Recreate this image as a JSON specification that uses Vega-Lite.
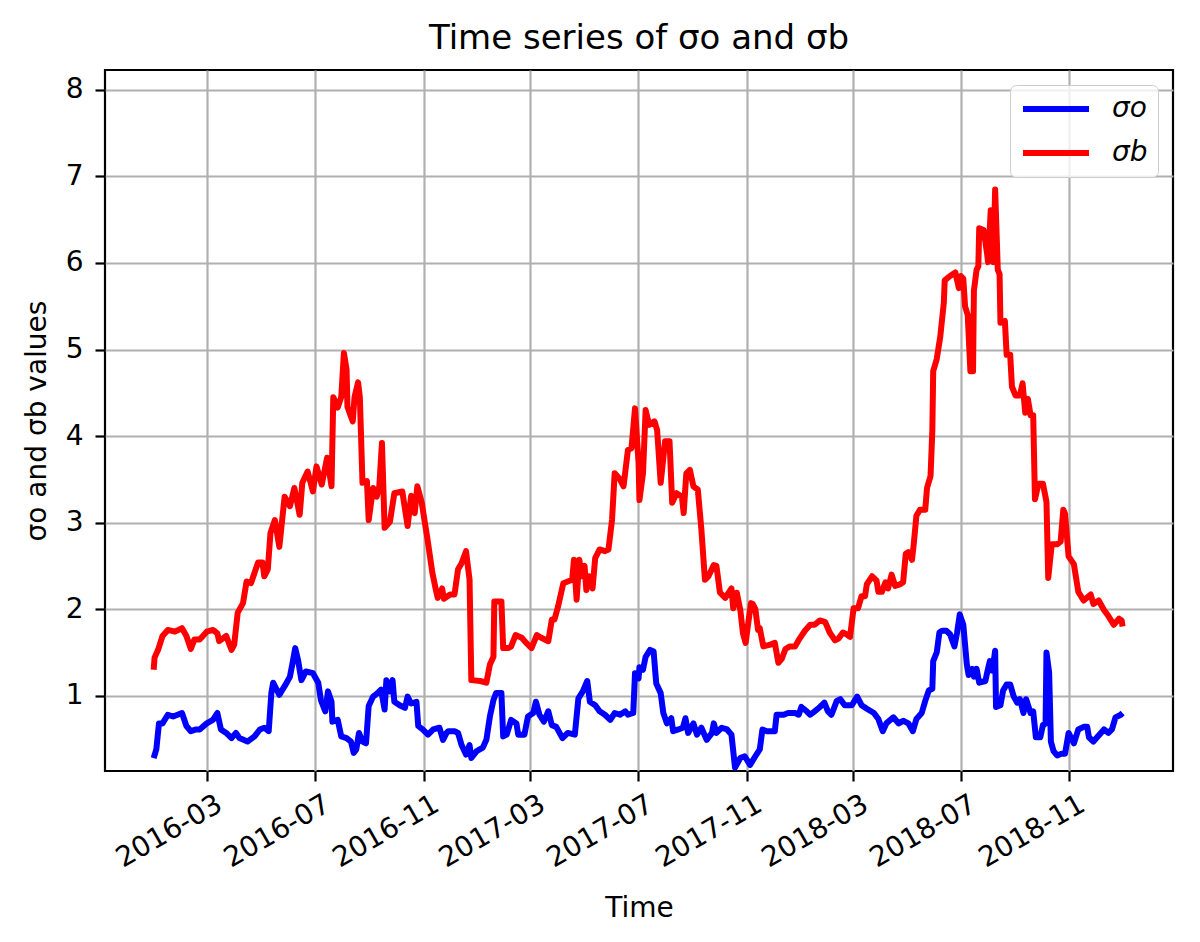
{
  "$schema": "https://vega.github.io/schema/vega-lite/v6.json",
  "width": 1068,
  "height": 701,
  "autosize": {"type": "none"},
  "padding": {"left": 105, "top": 70, "right": 27, "bottom": 171},
  "background": "white",
  "title": {
    "text": "Time series of σo and σb",
    "font": "DejaVu Sans",
    "fontSize": 34,
    "fontWeight": "normal",
    "color": "black",
    "anchor": "middle",
    "offset": 14
  },
  "config": {
    "font": "DejaVu Sans",
    "view": {"stroke": "black", "strokeWidth": 2.2},
    "axis": {
      "grid": true,
      "gridColor": "#b0b0b0",
      "gridWidth": 2.2,
      "domain": false,
      "ticks": true,
      "tickColor": "black",
      "tickWidth": 2.2,
      "tickSize": 10,
      "labelFont": "DejaVu Sans",
      "labelFontSize": 28,
      "labelColor": "black",
      "titleFont": "DejaVu Sans",
      "titleFontSize": 28,
      "titleFontWeight": "normal",
      "titleColor": "black"
    }
  },
  "data": {
    "values": [
      {"date": "2016-01-01", "series": "σo", "value": 0.28},
      {"date": "2016-01-04", "series": "σo", "value": 0.38},
      {"date": "2016-01-07", "series": "σo", "value": 0.68},
      {"date": "2016-01-11", "series": "σo", "value": 0.68},
      {"date": "2016-01-17", "series": "σo", "value": 0.78},
      {"date": "2016-01-23", "series": "σo", "value": 0.76},
      {"date": "2016-01-28", "series": "σo", "value": 0.78},
      {"date": "2016-02-02", "series": "σo", "value": 0.80},
      {"date": "2016-02-07", "series": "σo", "value": 0.65},
      {"date": "2016-02-12", "series": "σo", "value": 0.59},
      {"date": "2016-02-18", "series": "σo", "value": 0.61},
      {"date": "2016-02-22", "series": "σo", "value": 0.61},
      {"date": "2016-03-01", "series": "σo", "value": 0.68},
      {"date": "2016-03-08", "series": "σo", "value": 0.72},
      {"date": "2016-03-13", "series": "σo", "value": 0.80},
      {"date": "2016-03-17", "series": "σo", "value": 0.61},
      {"date": "2016-03-23", "series": "σo", "value": 0.57},
      {"date": "2016-03-29", "series": "σo", "value": 0.51},
      {"date": "2016-04-03", "series": "σo", "value": 0.57},
      {"date": "2016-04-07", "series": "σo", "value": 0.51},
      {"date": "2016-04-16", "series": "σo", "value": 0.47},
      {"date": "2016-04-24", "series": "σo", "value": 0.53},
      {"date": "2016-04-30", "series": "σo", "value": 0.61},
      {"date": "2016-05-05", "series": "σo", "value": 0.63},
      {"date": "2016-05-10", "series": "σo", "value": 0.59},
      {"date": "2016-05-13", "series": "σo", "value": 1.03},
      {"date": "2016-05-15", "series": "σo", "value": 1.15},
      {"date": "2016-05-22", "series": "σo", "value": 1.01},
      {"date": "2016-05-28", "series": "σo", "value": 1.11},
      {"date": "2016-06-03", "series": "σo", "value": 1.22},
      {"date": "2016-06-06", "series": "σo", "value": 1.38},
      {"date": "2016-06-09", "series": "σo", "value": 1.55},
      {"date": "2016-06-12", "series": "σo", "value": 1.42},
      {"date": "2016-06-16", "series": "σo", "value": 1.18},
      {"date": "2016-06-21", "series": "σo", "value": 1.28},
      {"date": "2016-06-29", "series": "σo", "value": 1.26},
      {"date": "2016-07-05", "series": "σo", "value": 1.15},
      {"date": "2016-07-08", "series": "σo", "value": 0.95},
      {"date": "2016-07-13", "series": "σo", "value": 0.82},
      {"date": "2016-07-16", "series": "σo", "value": 1.05},
      {"date": "2016-07-20", "series": "σo", "value": 0.93},
      {"date": "2016-07-21", "series": "σo", "value": 0.70},
      {"date": "2016-07-27", "series": "σo", "value": 0.72},
      {"date": "2016-07-31", "series": "σo", "value": 0.53},
      {"date": "2016-08-06", "series": "σo", "value": 0.51},
      {"date": "2016-08-11", "series": "σo", "value": 0.47},
      {"date": "2016-08-14", "series": "σo", "value": 0.34},
      {"date": "2016-08-17", "series": "σo", "value": 0.38},
      {"date": "2016-08-20", "series": "σo", "value": 0.57},
      {"date": "2016-08-24", "series": "σo", "value": 0.47},
      {"date": "2016-08-28", "series": "σo", "value": 0.45},
      {"date": "2016-08-31", "series": "σo", "value": 0.88},
      {"date": "2016-09-05", "series": "σo", "value": 0.99},
      {"date": "2016-09-10", "series": "σo", "value": 1.03},
      {"date": "2016-09-14", "series": "σo", "value": 1.07},
      {"date": "2016-09-18", "series": "σo", "value": 0.84},
      {"date": "2016-09-20", "series": "σo", "value": 1.18},
      {"date": "2016-09-24", "series": "σo", "value": 1.05},
      {"date": "2016-09-27", "series": "σo", "value": 1.18},
      {"date": "2016-09-29", "series": "σo", "value": 0.93},
      {"date": "2016-10-05", "series": "σo", "value": 0.89},
      {"date": "2016-10-11", "series": "σo", "value": 0.86},
      {"date": "2016-10-14", "series": "σo", "value": 0.99},
      {"date": "2016-10-18", "series": "σo", "value": 0.91},
      {"date": "2016-10-24", "series": "σo", "value": 0.93},
      {"date": "2016-10-26", "series": "σo", "value": 0.65},
      {"date": "2016-10-31", "series": "σo", "value": 0.61},
      {"date": "2016-11-06", "series": "σo", "value": 0.55},
      {"date": "2016-11-12", "series": "σo", "value": 0.61},
      {"date": "2016-11-19", "series": "σo", "value": 0.63},
      {"date": "2016-11-23", "series": "σo", "value": 0.49},
      {"date": "2016-11-27", "series": "σo", "value": 0.57},
      {"date": "2016-11-29", "series": "σo", "value": 0.59},
      {"date": "2016-12-06", "series": "σo", "value": 0.59},
      {"date": "2016-12-10", "series": "σo", "value": 0.57},
      {"date": "2016-12-14", "series": "σo", "value": 0.43},
      {"date": "2016-12-19", "series": "σo", "value": 0.32},
      {"date": "2016-12-23", "series": "σo", "value": 0.43},
      {"date": "2016-12-25", "series": "σo", "value": 0.28},
      {"date": "2016-12-31", "series": "σo", "value": 0.36},
      {"date": "2017-01-07", "series": "σo", "value": 0.40},
      {"date": "2017-01-11", "series": "σo", "value": 0.49},
      {"date": "2017-01-15", "series": "σo", "value": 0.76},
      {"date": "2017-01-19", "series": "σo", "value": 0.95},
      {"date": "2017-01-22", "series": "σo", "value": 1.03},
      {"date": "2017-01-28", "series": "σo", "value": 1.03},
      {"date": "2017-01-30", "series": "σo", "value": 0.53},
      {"date": "2017-02-03", "series": "σo", "value": 0.55},
      {"date": "2017-02-08", "series": "σo", "value": 0.72},
      {"date": "2017-02-14", "series": "σo", "value": 0.68},
      {"date": "2017-02-16", "series": "σo", "value": 0.55},
      {"date": "2017-02-23", "series": "σo", "value": 0.55},
      {"date": "2017-02-27", "series": "σo", "value": 0.76},
      {"date": "2017-03-05", "series": "σo", "value": 0.80},
      {"date": "2017-03-08", "series": "σo", "value": 0.93},
      {"date": "2017-03-12", "series": "σo", "value": 0.78},
      {"date": "2017-03-17", "series": "σo", "value": 0.70},
      {"date": "2017-03-22", "series": "σo", "value": 0.82},
      {"date": "2017-03-26", "series": "σo", "value": 0.66},
      {"date": "2017-03-31", "series": "σo", "value": 0.64},
      {"date": "2017-04-07", "series": "σo", "value": 0.51},
      {"date": "2017-04-13", "series": "σo", "value": 0.57},
      {"date": "2017-04-21", "series": "σo", "value": 0.55},
      {"date": "2017-04-25", "series": "σo", "value": 0.97},
      {"date": "2017-04-30", "series": "σo", "value": 1.05},
      {"date": "2017-05-05", "series": "σo", "value": 1.17},
      {"date": "2017-05-08", "series": "σo", "value": 0.93},
      {"date": "2017-05-14", "series": "σo", "value": 0.89},
      {"date": "2017-05-19", "series": "σo", "value": 0.82},
      {"date": "2017-05-25", "series": "σo", "value": 0.78},
      {"date": "2017-05-31", "series": "σo", "value": 0.72},
      {"date": "2017-06-05", "series": "σo", "value": 0.80},
      {"date": "2017-06-11", "series": "σo", "value": 0.78},
      {"date": "2017-06-17", "series": "σo", "value": 0.82},
      {"date": "2017-06-20", "series": "σo", "value": 0.78},
      {"date": "2017-06-26", "series": "σo", "value": 0.80},
      {"date": "2017-06-28", "series": "σo", "value": 1.26},
      {"date": "2017-07-02", "series": "σo", "value": 1.20},
      {"date": "2017-07-03", "series": "σo", "value": 1.33},
      {"date": "2017-07-07", "series": "σo", "value": 1.30},
      {"date": "2017-07-10", "series": "σo", "value": 1.45},
      {"date": "2017-07-15", "series": "σo", "value": 1.53},
      {"date": "2017-07-19", "series": "σo", "value": 1.51},
      {"date": "2017-07-22", "series": "σo", "value": 1.14},
      {"date": "2017-07-27", "series": "σo", "value": 1.03},
      {"date": "2017-07-30", "series": "σo", "value": 0.80},
      {"date": "2017-08-03", "series": "σo", "value": 0.68},
      {"date": "2017-08-08", "series": "σo", "value": 0.74},
      {"date": "2017-08-10", "series": "σo", "value": 0.59},
      {"date": "2017-08-16", "series": "σo", "value": 0.61},
      {"date": "2017-08-21", "series": "σo", "value": 0.63},
      {"date": "2017-08-24", "series": "σo", "value": 0.74},
      {"date": "2017-08-27", "series": "σo", "value": 0.57},
      {"date": "2017-09-02", "series": "σo", "value": 0.68},
      {"date": "2017-09-06", "series": "σo", "value": 0.55},
      {"date": "2017-09-11", "series": "σo", "value": 0.63},
      {"date": "2017-09-17", "series": "σo", "value": 0.49},
      {"date": "2017-09-23", "series": "σo", "value": 0.57},
      {"date": "2017-09-25", "series": "σo", "value": 0.68},
      {"date": "2017-09-28", "series": "σo", "value": 0.57},
      {"date": "2017-10-04", "series": "σo", "value": 0.63},
      {"date": "2017-10-10", "series": "σo", "value": 0.61},
      {"date": "2017-10-15", "series": "σo", "value": 0.55},
      {"date": "2017-10-19", "series": "σo", "value": 0.17},
      {"date": "2017-10-25", "series": "σo", "value": 0.28},
      {"date": "2017-10-30", "series": "σo", "value": 0.30},
      {"date": "2017-11-05", "series": "σo", "value": 0.20},
      {"date": "2017-11-11", "series": "σo", "value": 0.30},
      {"date": "2017-11-16", "series": "σo", "value": 0.38},
      {"date": "2017-11-19", "series": "σo", "value": 0.61},
      {"date": "2017-11-24", "series": "σo", "value": 0.59},
      {"date": "2017-11-28", "series": "σo", "value": 0.59},
      {"date": "2017-12-03", "series": "σo", "value": 0.59},
      {"date": "2017-12-05", "series": "σo", "value": 0.78},
      {"date": "2017-12-13", "series": "σo", "value": 0.78},
      {"date": "2017-12-18", "series": "σo", "value": 0.80},
      {"date": "2017-12-26", "series": "σo", "value": 0.80},
      {"date": "2017-12-30", "series": "σo", "value": 0.78},
      {"date": "2018-01-02", "series": "σo", "value": 0.87},
      {"date": "2018-01-08", "series": "σo", "value": 0.82},
      {"date": "2018-01-12", "series": "σo", "value": 0.78},
      {"date": "2018-01-17", "series": "σo", "value": 0.82},
      {"date": "2018-01-23", "series": "σo", "value": 0.87},
      {"date": "2018-01-28", "series": "σo", "value": 0.92},
      {"date": "2018-02-01", "series": "σo", "value": 0.82},
      {"date": "2018-02-05", "series": "σo", "value": 0.78},
      {"date": "2018-02-11", "series": "σo", "value": 0.94},
      {"date": "2018-02-15", "series": "σo", "value": 0.96},
      {"date": "2018-02-20", "series": "σo", "value": 0.89},
      {"date": "2018-02-28", "series": "σo", "value": 0.89},
      {"date": "2018-03-06", "series": "σo", "value": 0.99},
      {"date": "2018-03-11", "series": "σo", "value": 0.89},
      {"date": "2018-03-17", "series": "σo", "value": 0.85},
      {"date": "2018-03-25", "series": "σo", "value": 0.80},
      {"date": "2018-03-30", "series": "σo", "value": 0.73},
      {"date": "2018-04-04", "series": "σo", "value": 0.59},
      {"date": "2018-04-08", "series": "σo", "value": 0.68},
      {"date": "2018-04-16", "series": "σo", "value": 0.75},
      {"date": "2018-04-22", "series": "σo", "value": 0.68},
      {"date": "2018-04-27", "series": "σo", "value": 0.71},
      {"date": "2018-05-03", "series": "σo", "value": 0.68},
      {"date": "2018-05-08", "series": "σo", "value": 0.59},
      {"date": "2018-05-12", "series": "σo", "value": 0.73},
      {"date": "2018-05-18", "series": "σo", "value": 0.80},
      {"date": "2018-05-22", "series": "σo", "value": 0.94},
      {"date": "2018-05-26", "series": "σo", "value": 1.06},
      {"date": "2018-05-30", "series": "σo", "value": 1.08},
      {"date": "2018-05-31", "series": "σo", "value": 1.40},
      {"date": "2018-06-04", "series": "σo", "value": 1.50},
      {"date": "2018-06-07", "series": "σo", "value": 1.73},
      {"date": "2018-06-10", "series": "σo", "value": 1.75},
      {"date": "2018-06-15", "series": "σo", "value": 1.75},
      {"date": "2018-06-19", "series": "σo", "value": 1.71},
      {"date": "2018-06-24", "series": "σo", "value": 1.57},
      {"date": "2018-06-27", "series": "σo", "value": 1.73},
      {"date": "2018-06-30", "series": "σo", "value": 1.94},
      {"date": "2018-07-04", "series": "σo", "value": 1.82},
      {"date": "2018-07-06", "series": "σo", "value": 1.59},
      {"date": "2018-07-08", "series": "σo", "value": 1.36},
      {"date": "2018-07-10", "series": "σo", "value": 1.24},
      {"date": "2018-07-14", "series": "σo", "value": 1.31},
      {"date": "2018-07-16", "series": "σo", "value": 1.22},
      {"date": "2018-07-19", "series": "σo", "value": 1.31},
      {"date": "2018-07-22", "series": "σo", "value": 1.15},
      {"date": "2018-07-29", "series": "σo", "value": 1.17},
      {"date": "2018-07-31", "series": "σo", "value": 1.27},
      {"date": "2018-08-03", "series": "σo", "value": 1.40},
      {"date": "2018-08-06", "series": "σo", "value": 1.29},
      {"date": "2018-08-09", "series": "σo", "value": 1.52},
      {"date": "2018-08-10", "series": "σo", "value": 0.87},
      {"date": "2018-08-15", "series": "σo", "value": 0.89},
      {"date": "2018-08-18", "series": "σo", "value": 1.06},
      {"date": "2018-08-22", "series": "σo", "value": 1.13},
      {"date": "2018-08-26", "series": "σo", "value": 1.13},
      {"date": "2018-08-30", "series": "σo", "value": 0.99},
      {"date": "2018-09-03", "series": "σo", "value": 0.92},
      {"date": "2018-09-06", "series": "σo", "value": 0.96},
      {"date": "2018-09-10", "series": "σo", "value": 0.80},
      {"date": "2018-09-13", "series": "σo", "value": 0.96},
      {"date": "2018-09-18", "series": "σo", "value": 0.80},
      {"date": "2018-09-21", "series": "σo", "value": 0.82},
      {"date": "2018-09-24", "series": "σo", "value": 0.52},
      {"date": "2018-09-29", "series": "σo", "value": 0.52},
      {"date": "2018-10-02", "series": "σo", "value": 0.66},
      {"date": "2018-10-05", "series": "σo", "value": 0.68},
      {"date": "2018-10-06", "series": "σo", "value": 1.50},
      {"date": "2018-10-09", "series": "σo", "value": 1.27},
      {"date": "2018-10-11", "series": "σo", "value": 0.47},
      {"date": "2018-10-14", "series": "σo", "value": 0.36},
      {"date": "2018-10-18", "series": "σo", "value": 0.31},
      {"date": "2018-10-23", "series": "σo", "value": 0.33},
      {"date": "2018-10-27", "series": "σo", "value": 0.33},
      {"date": "2018-10-31", "series": "σo", "value": 0.57},
      {"date": "2018-11-06", "series": "σo", "value": 0.45},
      {"date": "2018-11-11", "series": "σo", "value": 0.61},
      {"date": "2018-11-17", "series": "σo", "value": 0.64},
      {"date": "2018-11-21", "series": "σo", "value": 0.64},
      {"date": "2018-11-23", "series": "σo", "value": 0.52},
      {"date": "2018-11-28", "series": "σo", "value": 0.47},
      {"date": "2018-12-04", "series": "σo", "value": 0.54},
      {"date": "2018-12-10", "series": "σo", "value": 0.61},
      {"date": "2018-12-15", "series": "σo", "value": 0.57},
      {"date": "2018-12-19", "series": "σo", "value": 0.61},
      {"date": "2018-12-23", "series": "σo", "value": 0.75},
      {"date": "2018-12-29", "series": "σo", "value": 0.78},
      {"date": "2018-12-31", "series": "σo", "value": 0.80},
      {"date": "2016-01-01", "series": "σb", "value": 1.30},
      {"date": "2016-01-02", "series": "σb", "value": 1.44},
      {"date": "2016-01-06", "series": "σb", "value": 1.53},
      {"date": "2016-01-11", "series": "σb", "value": 1.69},
      {"date": "2016-01-17", "series": "σb", "value": 1.76},
      {"date": "2016-01-25", "series": "σb", "value": 1.74},
      {"date": "2016-02-02", "series": "σb", "value": 1.78},
      {"date": "2016-02-07", "series": "σb", "value": 1.69},
      {"date": "2016-02-12", "series": "σb", "value": 1.54},
      {"date": "2016-02-16", "series": "σb", "value": 1.65},
      {"date": "2016-02-22", "series": "σb", "value": 1.65},
      {"date": "2016-03-01", "series": "σb", "value": 1.74},
      {"date": "2016-03-08", "series": "σb", "value": 1.76},
      {"date": "2016-03-13", "series": "σb", "value": 1.72},
      {"date": "2016-03-15", "series": "σb", "value": 1.63},
      {"date": "2016-03-23", "series": "σb", "value": 1.69},
      {"date": "2016-03-29", "series": "σb", "value": 1.53},
      {"date": "2016-04-01", "series": "σb", "value": 1.59},
      {"date": "2016-04-05", "series": "σb", "value": 1.96},
      {"date": "2016-04-11", "series": "σb", "value": 2.07},
      {"date": "2016-04-15", "series": "σb", "value": 2.32},
      {"date": "2016-04-20", "series": "σb", "value": 2.30},
      {"date": "2016-04-24", "series": "σb", "value": 2.42},
      {"date": "2016-04-28", "series": "σb", "value": 2.54},
      {"date": "2016-05-03", "series": "σb", "value": 2.54},
      {"date": "2016-05-05", "series": "σb", "value": 2.38},
      {"date": "2016-05-09", "series": "σb", "value": 2.46},
      {"date": "2016-05-12", "series": "σb", "value": 2.88},
      {"date": "2016-05-17", "series": "σb", "value": 3.03},
      {"date": "2016-05-22", "series": "σb", "value": 2.72},
      {"date": "2016-05-28", "series": "σb", "value": 3.30},
      {"date": "2016-06-03", "series": "σb", "value": 3.19},
      {"date": "2016-06-08", "series": "σb", "value": 3.40},
      {"date": "2016-06-14", "series": "σb", "value": 3.09},
      {"date": "2016-06-17", "series": "σb", "value": 3.46},
      {"date": "2016-06-23", "series": "σb", "value": 3.59},
      {"date": "2016-06-29", "series": "σb", "value": 3.36},
      {"date": "2016-07-03", "series": "σb", "value": 3.65},
      {"date": "2016-07-09", "series": "σb", "value": 3.44},
      {"date": "2016-07-15", "series": "σb", "value": 3.75},
      {"date": "2016-07-20", "series": "σb", "value": 3.42},
      {"date": "2016-07-22", "series": "σb", "value": 4.45},
      {"date": "2016-07-27", "series": "σb", "value": 4.33},
      {"date": "2016-07-31", "series": "σb", "value": 4.45},
      {"date": "2016-08-03", "series": "σb", "value": 4.96},
      {"date": "2016-08-06", "series": "σb", "value": 4.77},
      {"date": "2016-08-07", "series": "σb", "value": 4.34},
      {"date": "2016-08-13", "series": "σb", "value": 4.17},
      {"date": "2016-08-15", "series": "σb", "value": 4.45},
      {"date": "2016-08-19", "series": "σb", "value": 4.62},
      {"date": "2016-08-21", "series": "σb", "value": 4.45},
      {"date": "2016-08-24", "series": "σb", "value": 3.46},
      {"date": "2016-08-29", "series": "σb", "value": 3.48},
      {"date": "2016-08-31", "series": "σb", "value": 3.03},
      {"date": "2016-09-05", "series": "σb", "value": 3.40},
      {"date": "2016-09-09", "series": "σb", "value": 3.30},
      {"date": "2016-09-12", "series": "σb", "value": 3.42},
      {"date": "2016-09-15", "series": "σb", "value": 3.92},
      {"date": "2016-09-18", "series": "σb", "value": 2.94},
      {"date": "2016-09-24", "series": "σb", "value": 3.01},
      {"date": "2016-09-29", "series": "σb", "value": 3.34},
      {"date": "2016-10-08", "series": "σb", "value": 3.36},
      {"date": "2016-10-14", "series": "σb", "value": 2.96},
      {"date": "2016-10-18", "series": "σb", "value": 3.31},
      {"date": "2016-10-22", "series": "σb", "value": 3.11},
      {"date": "2016-10-25", "series": "σb", "value": 3.42},
      {"date": "2016-10-30", "series": "σb", "value": 3.23},
      {"date": "2016-11-02", "series": "σb", "value": 3.03},
      {"date": "2016-11-05", "series": "σb", "value": 2.84},
      {"date": "2016-11-11", "series": "σb", "value": 2.42},
      {"date": "2016-11-15", "series": "σb", "value": 2.22},
      {"date": "2016-11-17", "series": "σb", "value": 2.13},
      {"date": "2016-11-22", "series": "σb", "value": 2.24},
      {"date": "2016-11-24", "series": "σb", "value": 2.12},
      {"date": "2016-12-01", "series": "σb", "value": 2.17},
      {"date": "2016-12-06", "series": "σb", "value": 2.17},
      {"date": "2016-12-10", "series": "σb", "value": 2.46},
      {"date": "2016-12-14", "series": "σb", "value": 2.53},
      {"date": "2016-12-19", "series": "σb", "value": 2.67},
      {"date": "2016-12-23", "series": "σb", "value": 2.34},
      {"date": "2016-12-25", "series": "σb", "value": 1.18},
      {"date": "2017-01-04", "series": "σb", "value": 1.17},
      {"date": "2017-01-11", "series": "σb", "value": 1.15},
      {"date": "2017-01-15", "series": "σb", "value": 1.36},
      {"date": "2017-01-19", "series": "σb", "value": 1.45},
      {"date": "2017-01-20", "series": "σb", "value": 2.09},
      {"date": "2017-01-28", "series": "σb", "value": 2.09},
      {"date": "2017-01-30", "series": "σb", "value": 1.55},
      {"date": "2017-02-05", "series": "σb", "value": 1.55},
      {"date": "2017-02-08", "series": "σb", "value": 1.57},
      {"date": "2017-02-13", "series": "σb", "value": 1.70},
      {"date": "2017-02-20", "series": "σb", "value": 1.67},
      {"date": "2017-02-25", "series": "σb", "value": 1.61},
      {"date": "2017-03-03", "series": "σb", "value": 1.55},
      {"date": "2017-03-09", "series": "σb", "value": 1.70},
      {"date": "2017-03-14", "series": "σb", "value": 1.67},
      {"date": "2017-03-22", "series": "σb", "value": 1.63},
      {"date": "2017-03-26", "series": "σb", "value": 1.88},
      {"date": "2017-03-29", "series": "σb", "value": 1.88},
      {"date": "2017-04-02", "series": "σb", "value": 2.03},
      {"date": "2017-04-08", "series": "σb", "value": 2.30},
      {"date": "2017-04-13", "series": "σb", "value": 2.32},
      {"date": "2017-04-18", "series": "σb", "value": 2.34},
      {"date": "2017-04-20", "series": "σb", "value": 2.57},
      {"date": "2017-04-23", "series": "σb", "value": 2.11},
      {"date": "2017-04-26", "series": "σb", "value": 2.57},
      {"date": "2017-04-29", "series": "σb", "value": 2.38},
      {"date": "2017-05-02", "series": "σb", "value": 2.50},
      {"date": "2017-05-04", "series": "σb", "value": 2.22},
      {"date": "2017-05-07", "series": "σb", "value": 2.38},
      {"date": "2017-05-11", "series": "σb", "value": 2.24},
      {"date": "2017-05-14", "series": "σb", "value": 2.59},
      {"date": "2017-05-19", "series": "σb", "value": 2.69},
      {"date": "2017-05-25", "series": "σb", "value": 2.67},
      {"date": "2017-05-29", "series": "σb", "value": 2.69},
      {"date": "2017-06-02", "series": "σb", "value": 3.03},
      {"date": "2017-06-05", "series": "σb", "value": 3.57},
      {"date": "2017-06-11", "series": "σb", "value": 3.50},
      {"date": "2017-06-15", "series": "σb", "value": 3.42},
      {"date": "2017-06-20", "series": "σb", "value": 3.84},
      {"date": "2017-06-24", "series": "σb", "value": 3.86},
      {"date": "2017-06-28", "series": "σb", "value": 4.32},
      {"date": "2017-07-02", "series": "σb", "value": 3.69},
      {"date": "2017-07-03", "series": "σb", "value": 3.26},
      {"date": "2017-07-07", "series": "σb", "value": 3.57},
      {"date": "2017-07-10", "series": "σb", "value": 4.30},
      {"date": "2017-07-14", "series": "σb", "value": 4.13},
      {"date": "2017-07-20", "series": "σb", "value": 4.17},
      {"date": "2017-07-23", "series": "σb", "value": 4.07},
      {"date": "2017-07-27", "series": "σb", "value": 3.46},
      {"date": "2017-08-01", "series": "σb", "value": 3.94},
      {"date": "2017-08-06", "series": "σb", "value": 3.94},
      {"date": "2017-08-09", "series": "σb", "value": 3.23},
      {"date": "2017-08-14", "series": "σb", "value": 3.34},
      {"date": "2017-08-20", "series": "σb", "value": 3.30},
      {"date": "2017-08-22", "series": "σb", "value": 3.11},
      {"date": "2017-08-25", "series": "σb", "value": 3.57},
      {"date": "2017-08-29", "series": "σb", "value": 3.61},
      {"date": "2017-09-02", "series": "σb", "value": 3.42},
      {"date": "2017-09-07", "series": "σb", "value": 3.38},
      {"date": "2017-09-11", "series": "σb", "value": 2.92},
      {"date": "2017-09-15", "series": "σb", "value": 2.34},
      {"date": "2017-09-19", "series": "σb", "value": 2.38},
      {"date": "2017-09-25", "series": "σb", "value": 2.51},
      {"date": "2017-09-28", "series": "σb", "value": 2.50},
      {"date": "2017-10-02", "series": "σb", "value": 2.19},
      {"date": "2017-10-08", "series": "σb", "value": 2.13},
      {"date": "2017-10-15", "series": "σb", "value": 2.24},
      {"date": "2017-10-17", "series": "σb", "value": 2.01},
      {"date": "2017-10-21", "series": "σb", "value": 2.19},
      {"date": "2017-10-25", "series": "σb", "value": 1.99},
      {"date": "2017-10-28", "series": "σb", "value": 1.72},
      {"date": "2017-10-31", "series": "σb", "value": 1.61},
      {"date": "2017-11-06", "series": "σb", "value": 2.07},
      {"date": "2017-11-08", "series": "σb", "value": 2.06},
      {"date": "2017-11-11", "series": "σb", "value": 2.00},
      {"date": "2017-11-14", "series": "σb", "value": 1.76},
      {"date": "2017-11-16", "series": "σb", "value": 1.78},
      {"date": "2017-11-20", "series": "σb", "value": 1.57},
      {"date": "2017-11-28", "series": "σb", "value": 1.59},
      {"date": "2017-12-03", "series": "σb", "value": 1.61},
      {"date": "2017-12-07", "series": "σb", "value": 1.38},
      {"date": "2017-12-11", "series": "σb", "value": 1.43},
      {"date": "2017-12-15", "series": "σb", "value": 1.54},
      {"date": "2017-12-20", "series": "σb", "value": 1.57},
      {"date": "2017-12-26", "series": "σb", "value": 1.57},
      {"date": "2017-12-31", "series": "σb", "value": 1.66},
      {"date": "2018-01-06", "series": "σb", "value": 1.75},
      {"date": "2018-01-12", "series": "σb", "value": 1.82},
      {"date": "2018-01-17", "series": "σb", "value": 1.82},
      {"date": "2018-01-23", "series": "σb", "value": 1.87},
      {"date": "2018-01-29", "series": "σb", "value": 1.85},
      {"date": "2018-02-03", "series": "σb", "value": 1.73},
      {"date": "2018-02-09", "series": "σb", "value": 1.64},
      {"date": "2018-02-13", "series": "σb", "value": 1.66},
      {"date": "2018-02-18", "series": "σb", "value": 1.73},
      {"date": "2018-02-22", "series": "σb", "value": 1.71},
      {"date": "2018-02-26", "series": "σb", "value": 1.68},
      {"date": "2018-03-02", "series": "σb", "value": 2.01},
      {"date": "2018-03-07", "series": "σb", "value": 2.01},
      {"date": "2018-03-11", "series": "σb", "value": 2.15},
      {"date": "2018-03-15", "series": "σb", "value": 2.15},
      {"date": "2018-03-17", "series": "σb", "value": 2.29},
      {"date": "2018-03-23", "series": "σb", "value": 2.38},
      {"date": "2018-03-28", "series": "σb", "value": 2.33},
      {"date": "2018-03-30", "series": "σb", "value": 2.20},
      {"date": "2018-04-03", "series": "σb", "value": 2.20},
      {"date": "2018-04-07", "series": "σb", "value": 2.31},
      {"date": "2018-04-10", "series": "σb", "value": 2.24},
      {"date": "2018-04-14", "series": "σb", "value": 2.40},
      {"date": "2018-04-18", "series": "σb", "value": 2.27},
      {"date": "2018-04-24", "series": "σb", "value": 2.29},
      {"date": "2018-04-27", "series": "σb", "value": 2.31},
      {"date": "2018-04-30", "series": "σb", "value": 2.64},
      {"date": "2018-05-03", "series": "σb", "value": 2.66},
      {"date": "2018-05-07", "series": "σb", "value": 2.57},
      {"date": "2018-05-09", "series": "σb", "value": 2.75},
      {"date": "2018-05-12", "series": "σb", "value": 3.08},
      {"date": "2018-05-16", "series": "σb", "value": 3.15},
      {"date": "2018-05-22", "series": "σb", "value": 3.15},
      {"date": "2018-05-24", "series": "σb", "value": 3.40},
      {"date": "2018-05-28", "series": "σb", "value": 3.54},
      {"date": "2018-05-30", "series": "σb", "value": 4.06},
      {"date": "2018-05-31", "series": "σb", "value": 4.75},
      {"date": "2018-06-04", "series": "σb", "value": 4.89},
      {"date": "2018-06-08", "series": "σb", "value": 5.15},
      {"date": "2018-06-12", "series": "σb", "value": 5.54},
      {"date": "2018-06-13", "series": "σb", "value": 5.80},
      {"date": "2018-06-19", "series": "σb", "value": 5.85},
      {"date": "2018-06-25", "series": "σb", "value": 5.89},
      {"date": "2018-06-29", "series": "σb", "value": 5.71},
      {"date": "2018-07-01", "series": "σb", "value": 5.85},
      {"date": "2018-07-04", "series": "σb", "value": 5.82},
      {"date": "2018-07-06", "series": "σb", "value": 5.50},
      {"date": "2018-07-09", "series": "σb", "value": 5.40},
      {"date": "2018-07-12", "series": "σb", "value": 4.75},
      {"date": "2018-07-15", "series": "σb", "value": 4.75},
      {"date": "2018-07-16", "series": "σb", "value": 5.68},
      {"date": "2018-07-19", "series": "σb", "value": 5.92},
      {"date": "2018-07-21", "series": "σb", "value": 5.96},
      {"date": "2018-07-22", "series": "σb", "value": 6.40},
      {"date": "2018-07-27", "series": "σb", "value": 6.38},
      {"date": "2018-07-31", "series": "σb", "value": 6.10},
      {"date": "2018-08-01", "series": "σb", "value": 6.01},
      {"date": "2018-08-04", "series": "σb", "value": 6.61},
      {"date": "2018-08-07", "series": "σb", "value": 6.01},
      {"date": "2018-08-09", "series": "σb", "value": 6.85},
      {"date": "2018-08-12", "series": "σb", "value": 5.92},
      {"date": "2018-08-14", "series": "σb", "value": 5.87},
      {"date": "2018-08-15", "series": "σb", "value": 5.31},
      {"date": "2018-08-20", "series": "σb", "value": 5.33},
      {"date": "2018-08-22", "series": "σb", "value": 4.94},
      {"date": "2018-08-26", "series": "σb", "value": 4.94},
      {"date": "2018-08-28", "series": "σb", "value": 4.57},
      {"date": "2018-09-01", "series": "σb", "value": 4.47},
      {"date": "2018-09-06", "series": "σb", "value": 4.47},
      {"date": "2018-09-09", "series": "σb", "value": 4.61},
      {"date": "2018-09-12", "series": "σb", "value": 4.27},
      {"date": "2018-09-15", "series": "σb", "value": 4.43},
      {"date": "2018-09-18", "series": "σb", "value": 4.24},
      {"date": "2018-09-21", "series": "σb", "value": 4.24},
      {"date": "2018-09-23", "series": "σb", "value": 3.27},
      {"date": "2018-09-27", "series": "σb", "value": 3.45},
      {"date": "2018-10-02", "series": "σb", "value": 3.45},
      {"date": "2018-10-06", "series": "σb", "value": 3.24},
      {"date": "2018-10-08", "series": "σb", "value": 2.36},
      {"date": "2018-10-12", "series": "σb", "value": 2.75},
      {"date": "2018-10-18", "series": "σb", "value": 2.75},
      {"date": "2018-10-22", "series": "σb", "value": 2.78},
      {"date": "2018-10-25", "series": "σb", "value": 3.15},
      {"date": "2018-10-27", "series": "σb", "value": 3.10},
      {"date": "2018-10-31", "series": "σb", "value": 2.61},
      {"date": "2018-11-06", "series": "σb", "value": 2.52},
      {"date": "2018-11-11", "series": "σb", "value": 2.20},
      {"date": "2018-11-17", "series": "σb", "value": 2.10},
      {"date": "2018-11-25", "series": "σb", "value": 2.17},
      {"date": "2018-11-28", "series": "σb", "value": 2.06},
      {"date": "2018-12-04", "series": "σb", "value": 2.10},
      {"date": "2018-12-10", "series": "σb", "value": 1.99},
      {"date": "2018-12-15", "series": "σb", "value": 1.92},
      {"date": "2018-12-21", "series": "σb", "value": 1.82},
      {"date": "2018-12-27", "series": "σb", "value": 1.89},
      {"date": "2018-12-30", "series": "σb", "value": 1.87},
      {"date": "2018-12-31", "series": "σb", "value": 1.80}
    ]
  },
  "mark": {"type": "line", "strokeWidth": 6, "strokeJoin": "round", "clip": true},
  "encoding": {
    "x": {
      "field": "date",
      "type": "temporal",
      "scale": {
        "type": "utc",
        "domain": [
          {"year": 2015, "month": 11, "date": 7, "utc": true},
          {"year": 2019, "month": 2, "date": 26, "utc": true}
        ]
      },
      "axis": {
        "title": "Time",
        "values": [
          {"year": 2016, "month": 3, "date": 1, "utc": true},
          {"year": 2016, "month": 7, "date": 1, "utc": true},
          {"year": 2016, "month": 11, "date": 1, "utc": true},
          {"year": 2017, "month": 3, "date": 1, "utc": true},
          {"year": 2017, "month": 7, "date": 1, "utc": true},
          {"year": 2017, "month": 11, "date": 1, "utc": true},
          {"year": 2018, "month": 3, "date": 1, "utc": true},
          {"year": 2018, "month": 7, "date": 1, "utc": true},
          {"year": 2018, "month": 11, "date": 1, "utc": true}
        ],
        "format": "%Y-%m",
        "labelAngle": -30,
        "labelAlign": "right",
        "labelBaseline": "top",
        "labelPadding": 9,
        "labelOffset": 6,
        "labelOverlap": false,
        "titlePadding": 22
      }
    },
    "y": {
      "field": "value",
      "type": "quantitative",
      "scale": {"domain": [0.13, 8.23], "nice": false, "zero": false},
      "axis": {
        "title": "σo and σb values",
        "values": [1, 2, 3, 4, 5, 6, 7, 8],
        "labelPadding": 12,
        "titlePadding": 14
      }
    },
    "color": {
      "field": "series",
      "type": "nominal",
      "scale": {"domain": ["σo", "σb"], "range": ["#0000ff", "#ff0000"]},
      "legend": {
        "title": null,
        "orient": "top-right",
        "offset": 15,
        "symbolType": "stroke",
        "symbolStrokeWidth": 6,
        "symbolSize": 4356,
        "clipHeight": 28,
        "labelFont": "DejaVu Sans",
        "labelFontSize": 28,
        "labelFontStyle": "italic",
        "labelColor": "black",
        "labelOffset": 20,
        "padding": 10,
        "rowPadding": 16,
        "fillColor": "rgba(255,255,255,0.8)",
        "strokeColor": "#cccccc",
        "cornerRadius": 6
      }
    }
  }
}
